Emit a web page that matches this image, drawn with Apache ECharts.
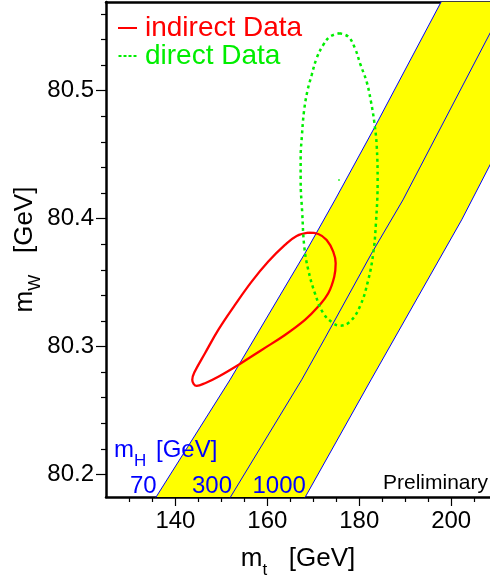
<!DOCTYPE html>
<html>
<head>
<meta charset="utf-8">
<script src="https://cdn.jsdelivr.net/npm/echarts@6/dist/echarts.min.js"></script>
<style>
html,body{margin:0;padding:0;background:#fff;}
#chart{width:490px;height:583px;}
</style>
</head>
<body>
<div id="chart"></div>
<script>
// ---- axis ranges and ticks ----
const MT_MIN = 124.9, MT_MAX = 208.45;
const MW_MIN = 80.1823, MW_MAX = 80.5694;
const mtTicks = [140, 160, 180, 200];
const mtMinorTicks = [130, 135, 145, 150, 155, 165, 170, 175, 185, 190, 195, 205];
const mwTicks = [80.2, 80.3, 80.4, 80.5];
const mwMinorTicks = [80.22, 80.24, 80.26, 80.28, 80.32, 80.34, 80.36, 80.38,
                      80.42, 80.44, 80.46, 80.48, 80.52, 80.54, 80.56];

// ---- SM prediction lines (mt, mW) for m_H = 70, 300, 1000 GeV ----
const line70 = [[135.4, 80.18], [151.87, 80.2739], [168.19, 80.3729], [174.72, 80.4146],
                [183.42, 80.4719], [197.9, 80.57]];
const line300 = [[151.6, 80.18], [167.47, 80.2739], [172.54, 80.3065], [182.7, 80.3729],
                 [189.51, 80.4146], [208.6, 80.546]];
const line1000 = [[167.9, 80.18], [182.55, 80.2739], [202.28, 80.399], [208.6, 80.443]];
const bandCorner = [[208.6, 80.57]];

// ---- indirect (red) 68% contour ----
const indirectData = [
  [168.91, 80.3890], [171.08, 80.3880], [172.91, 80.3833], [174.34, 80.3742],
  [174.87, 80.3651], [174.56, 80.3546], [173.26, 80.3416], [171.08, 80.3312],
  [168.19, 80.3208], [163.84, 80.3090], [158.77, 80.2973], [153.68, 80.2856],
  [149.33, 80.2764], [146.44, 80.2713], [144.63, 80.2692], [143.67, 80.2739],
  [144.11, 80.2796], [146.44, 80.2947], [149.33, 80.3130], [152.96, 80.3325],
  [156.59, 80.3507], [160.21, 80.3664], [163.84, 80.3794], [166.38, 80.3864],
  [168.91, 80.3890]
];

// ---- direct (green) 68% contour ----
const directData = [
  [175.65, 80.5449], [177.61, 80.5423], [179.07, 80.5332], [180.30, 80.5201],
  [181.61, 80.5071], [182.55, 80.4915], [183.26, 80.4758], [183.79, 80.4576],
  [184.00, 80.4289], [183.63, 80.3964], [183.05, 80.3729], [181.96, 80.3520],
  [180.15, 80.3312], [177.98, 80.3194], [175.80, 80.3163], [174.34, 80.3182],
  [172.17, 80.3260], [170.36, 80.3416], [168.91, 80.3599], [168.04, 80.3781],
  [167.60, 80.4042], [167.25, 80.4302], [167.25, 80.4472], [167.54, 80.4654],
  [167.97, 80.4836], [168.69, 80.4993], [169.65, 80.5123], [170.73, 80.5254],
  [172.17, 80.5358], [173.63, 80.5423], [175.65, 80.5449]
];
const directCenter = [[175.6, 80.4302]];

const FONT = "'Liberation Sans', Arial, Helvetica, sans-serif";
const bandPoly = line70.concat(bandCorner, line1000.slice().reverse());

const chart = echarts.init(document.getElementById('chart'), null, {renderer: 'canvas'});

const axisBase = {
  type: 'value',
  splitLine: {show: false},
  axisLine: {show: false},
  axisTick: {show: false},
  axisLabel: {show: false}
};

const option = {
  animation: false,
  backgroundColor: '#ffffff',
  grid: {left: 106, right: 0, top: 2, bottom: 86, containLabel: false, outerBoundsMode: 'none'},
  legend: {
    orient: 'vertical',
    left: 118,
    top: 14,
    padding: 0,
    itemWidth: 19,
    itemHeight: 2,
    itemGap: 0,
    selectedMode: false,
    data: [
      {name: 'indirect Data', icon: 'rect', textStyle: {color: '#ff0000'}},
      {name: 'direct Data', icon: 'path://M0,0h3v2h-3zM5,0h3v2h-3zM10,0h3v2h-3zM15,0h3v2h-3z',
       textStyle: {color: '#00ee00'}}
    ],
    textStyle: {fontSize: 28, fontFamily: FONT, lineHeight: 24, padding: [0, 0, 0, 3]}
  },
  xAxis: [
    Object.assign({}, axisBase, {
      min: MT_MIN, max: MT_MAX, position: 'bottom',
      axisLine: {show: true, onZero: false, lineStyle: {color: '#000', width: 2.5}},
      axisTick: {show: true, customValues: mtTicks, length: 9, lineStyle: {color: '#000', width: 1.2}},
      axisLabel: {show: true, customValues: mtTicks, margin: 12, fontSize: 24, color: '#000', fontFamily: FONT},
      name: '{m|m}{s|t}{m|   [GeV]}',
      nameLocation: 'middle',
      nameGap: 49,
      nameTextStyle: {
        rich: {
          m: {fontSize: 26, fontFamily: FONT, color: '#000', lineHeight: 26},
          s: {fontSize: 17, fontFamily: FONT, color: '#000', lineHeight: 17, padding: [22, 0, 0, 0]}
        }
      }
    }),
    Object.assign({}, axisBase, {
      min: MT_MIN, max: MT_MAX, position: 'bottom',
      axisTick: {show: true, customValues: mtMinorTicks, length: 5, lineStyle: {color: '#000', width: 1.2}}
    }),
    Object.assign({}, axisBase, {
      min: MT_MIN, max: MT_MAX, position: 'top',
      axisLine: {show: true, onZero: false, lineStyle: {color: '#000', width: 2.5}}
    })
  ],
  yAxis: [
    Object.assign({}, axisBase, {
      min: MW_MIN, max: MW_MAX, position: 'left',
      axisLine: {show: true, onZero: false, lineStyle: {color: '#000', width: 2.5}},
      axisTick: {show: true, customValues: mwTicks, length: 10, lineStyle: {color: '#000', width: 1.2}},
      axisLabel: {show: true, customValues: mwTicks, margin: 12, fontSize: 24, color: '#000', fontFamily: FONT,
                  formatter: v => v.toFixed(1)},
      name: '{m|m}{s|W}{m|   [GeV]}',
      nameLocation: 'middle',
      nameRotate: 90,
      nameGap: 68,
      nameMoveOverlap: false,
      nameTextStyle: {
        rich: {
          m: {fontSize: 26, fontFamily: FONT, color: '#000', lineHeight: 26},
          s: {fontSize: 17, fontFamily: FONT, color: '#000', lineHeight: 17, padding: [20, 0, 0, 0]}
        }
      }
    }),
    Object.assign({}, axisBase, {
      min: MW_MIN, max: MW_MAX, position: 'left',
      axisTick: {show: true, customValues: mwMinorTicks, length: 5, lineStyle: {color: '#000', width: 1.2}}
    })
  ],
  series: [
    {
      type: 'custom', name: 'band', silent: true, clip: true, z: 1,
      xAxisIndex: 0, yAxisIndex: 0,
      data: [[MT_MIN, MW_MIN]],
      renderItem: (params, api) => ({
        type: 'polygon',
        shape: {points: bandPoly.map(p => api.coord(p))},
        style: {fill: '#ffff00', stroke: null}
      })
    },
    {type: 'line', name: '70', data: line70, symbol: 'none', silent: true, z: 3,
     lineStyle: {color: '#0000ff', width: 1}},
    {type: 'line', name: '300', data: line300, symbol: 'none', silent: true, z: 3,
     lineStyle: {color: '#0000ff', width: 1}},
    {type: 'line', name: '1000', data: line1000, symbol: 'none', silent: true, z: 3,
     lineStyle: {color: '#0000ff', width: 1}},
    {type: 'line', name: 'indirect Data', data: indirectData, symbol: 'none', smooth: 0.4, z: 5,
     itemStyle: {color: '#ff0000'}, lineStyle: {color: '#ff0000', width: 2.3}},
    {type: 'line', name: 'direct Data', data: directData, symbol: 'none', smooth: 0.4, z: 5,
     itemStyle: {color: '#00ee00'}, lineStyle: {color: '#00ee00', width: 2.5, type: [3, 3.5]}},
    {type: 'scatter', name: 'center', data: directCenter, symbolSize: 2, z: 5,
     itemStyle: {color: '#00ee00'}}
  ],
  graphic: [
    {type: 'text', x: 114, y: 462, z: 10, style: {text: 'm', fill: '#0000ff', font: '24px ' + FONT, textAlign: 'left', textVerticalAlign: 'bottom'}},
    {type: 'text', x: 134, y: 470, z: 10, style: {text: 'H', fill: '#0000ff', font: '17px ' + FONT, textAlign: 'left', textVerticalAlign: 'bottom'}},
    {type: 'text', x: 156, y: 462, z: 10, style: {text: '[GeV]', fill: '#0000ff', font: '24px ' + FONT, textAlign: 'left', textVerticalAlign: 'bottom'}},
    {type: 'text', x: 130, y: 498, z: 10, style: {text: '70', fill: '#0000ff', font: '24px ' + FONT, textAlign: 'left', textVerticalAlign: 'bottom'}},
    {type: 'text', x: 192, y: 498, z: 10, style: {text: '300', fill: '#0000ff', font: '24px ' + FONT, textAlign: 'left', textVerticalAlign: 'bottom'}},
    {type: 'text', x: 252.5, y: 498, z: 10, style: {text: '1000', fill: '#0000ff', font: '24px ' + FONT, textAlign: 'left', textVerticalAlign: 'bottom'}},
    {type: 'text', x: 488, y: 493.5, z: 10, style: {text: 'Preliminary', fill: '#000000', font: '21px ' + FONT, textAlign: 'right', textVerticalAlign: 'bottom'}}
  ]
};
chart.setOption(option);
</script>
</body>
</html>
